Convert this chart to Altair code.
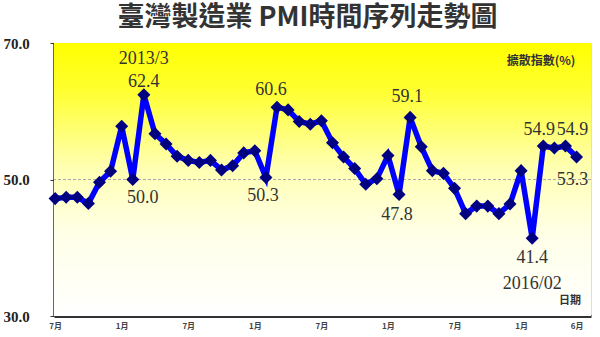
import altair as alt
import pandas as pd

# ---- data ----
month_index = list(range(48))  # 2012/07 ... 2016/06
pmi = [47.2, 47.4, 47.4, 46.5, 49.6, 51.2, 57.8, 50.0, 62.4, 56.7, 55.2, 53.4,
       52.8, 52.5, 52.8, 51.4, 52.0, 53.9, 54.2, 50.3, 60.6, 60.2, 58.5, 58.1,
       58.6, 55.4, 53.3, 51.6, 49.3, 50.1, 53.5, 47.8, 59.1, 54.8, 51.3, 50.9,
       48.7, 45.0, 46.1, 46.1, 45.0, 46.4, 51.3, 41.4, 54.9, 54.6, 54.9, 53.3]
tick_values = [0, 6, 12, 18, 24, 30, 36, 42, 47]
tick_labels = ["7月", "1月", "7月", "1月", "7月", "1月", "7月", "1月", "6月"]
y_ticks = [30, 50, 70]
date_notes = {8: "2013/3", 43: "2016/02"}

W, H = 537, 273

df = pd.DataFrame({"idx": month_index, "pmi": pmi})
df["lbl"] = [f"{v:.1f}" for v in pmi]
df["note"] = [date_notes.get(i, "") for i in month_index]

labelexpr = "[" + ",".join(f"'{t}'" for t in tick_labels) + "][indexof([" + \
    ",".join(str(v) for v in tick_values) + "], datum.value)]"

xenc = alt.X("idx:Q", scale=alt.Scale(domain=[-0.1, 48.3], nice=False, zero=False),
             axis=alt.Axis(values=tick_values, labelExpr=labelexpr, title=None, grid=False,
                           ticks=False, domainColor="#333333", domainWidth=3,
                           labelFont="Noto Sans CJK TC", labelFontSize=8, labelFontWeight="bold",
                           labelColor="#444444", labelPadding=6))
yenc = alt.Y("pmi:Q", scale=alt.Scale(domain=[30, 70], nice=False, zero=False),
             axis=alt.Axis(values=y_ticks, format=".1f", title=None, grid=False,
                           domainColor="#333333", domainWidth=2.5, tickColor="#333333",
                           tickSize=4, labelAlign="left", labelPadding=47,
                           labelFont="Liberation Serif", labelFontSize=15,
                           labelFontWeight="bold", labelColor="#222222"))

bg = alt.Chart(pd.DataFrame({"a": [0]})).mark_rect(
    color=alt.LinearGradient(
        gradient="linear", x1=0, x2=0, y1=0, y2=1,
        stops=[alt.GradientStop(color="#FFFF00", offset=0),
               alt.GradientStop(color="#FFFF33", offset=0.18),
               alt.GradientStop(color="#FFFFB0", offset=0.45),
               alt.GradientStop(color="#FFFFE8", offset=0.7),
               alt.GradientStop(color="#FFFFFF", offset=1)])
).encode(x=alt.value(0), x2=alt.value(W), y=alt.value(0), y2=alt.value(H))

ref = alt.Chart(pd.DataFrame({"y": [50]})).mark_rule(
    color="#aaaaaa", strokeDash=[3, 2], strokeWidth=1.2
).encode(y=alt.Y("y:Q", scale=alt.Scale(domain=[30, 70], nice=False, zero=False)))

base = alt.Chart(df)
line = base.mark_line(color="#0000FF", strokeWidth=5.5).encode(x=xenc, y=yenc)
pts = base.mark_point(shape="diamond", filled=True, color="#000080", size=170,
                      opacity=1).encode(x="idx:Q", y="pmi:Q")


def ann(idxs, field, dx, dy):
    return base.transform_filter(alt.FieldOneOfPredicate(field="idx", oneOf=idxs)).mark_text(
        font="Liberation Serif", fontSize=18, color="#333333", dx=dx, dy=dy,
        baseline="middle", align="center"
    ).encode(x="idx:Q", y="pmi:Q", text=f"{field}:N")


texts = [
    ann([8], "lbl", 0, -13),
    ann([8], "note", 0, -36),
    ann([20], "lbl", -6, -17),
    ann([32], "lbl", -3, -20),
    ann([44], "lbl", -4, -16),
    ann([46], "lbl", 7, -16),
    ann([7], "lbl", 10, 18),
    ann([19], "lbl", -3, 19),
    ann([31], "lbl", -2, 20),
    ann([43], "lbl", 0, 20),
    ann([43], "note", 0, 46),
    ann([47], "lbl", -4, 23),
]

unit = alt.Chart(pd.DataFrame({"t": ["擴散指數(%)"]})).mark_text(
    font="Noto Sans CJK TC", fontSize=12, fontWeight="bold", color="#333333", align="center",
    baseline="middle"
).encode(x=alt.value(487), y=alt.value(18), text="t:N")
date_t = alt.Chart(pd.DataFrame({"t": ["日期"]})).mark_text(
    font="Noto Sans CJK TC", fontSize=11, fontWeight="bold", color="#333333", align="center",
    baseline="middle"
).encode(x=alt.value(516), y=alt.value(258), text="t:N")

chart = alt.layer(bg, ref, line, pts, *texts, unit, date_t).properties(
    width=W, height=H,
    title=alt.TitleParams(text="臺灣製造業 PMI時間序列走勢圖", font="Noto Sans CJK TC",
                          fontSize=27, fontWeight="bold", color="#333333", anchor="middle",
                          offset=4, dx=-15),
    autosize=alt.AutoSizeParams(type="none"),
    padding={"left": 54, "top": 43, "right": 9, "bottom": 21},
).configure_view(stroke=None).configure(background="white")

chart.save("out.html", embed_options={"renderer": "svg", "actions": False})
